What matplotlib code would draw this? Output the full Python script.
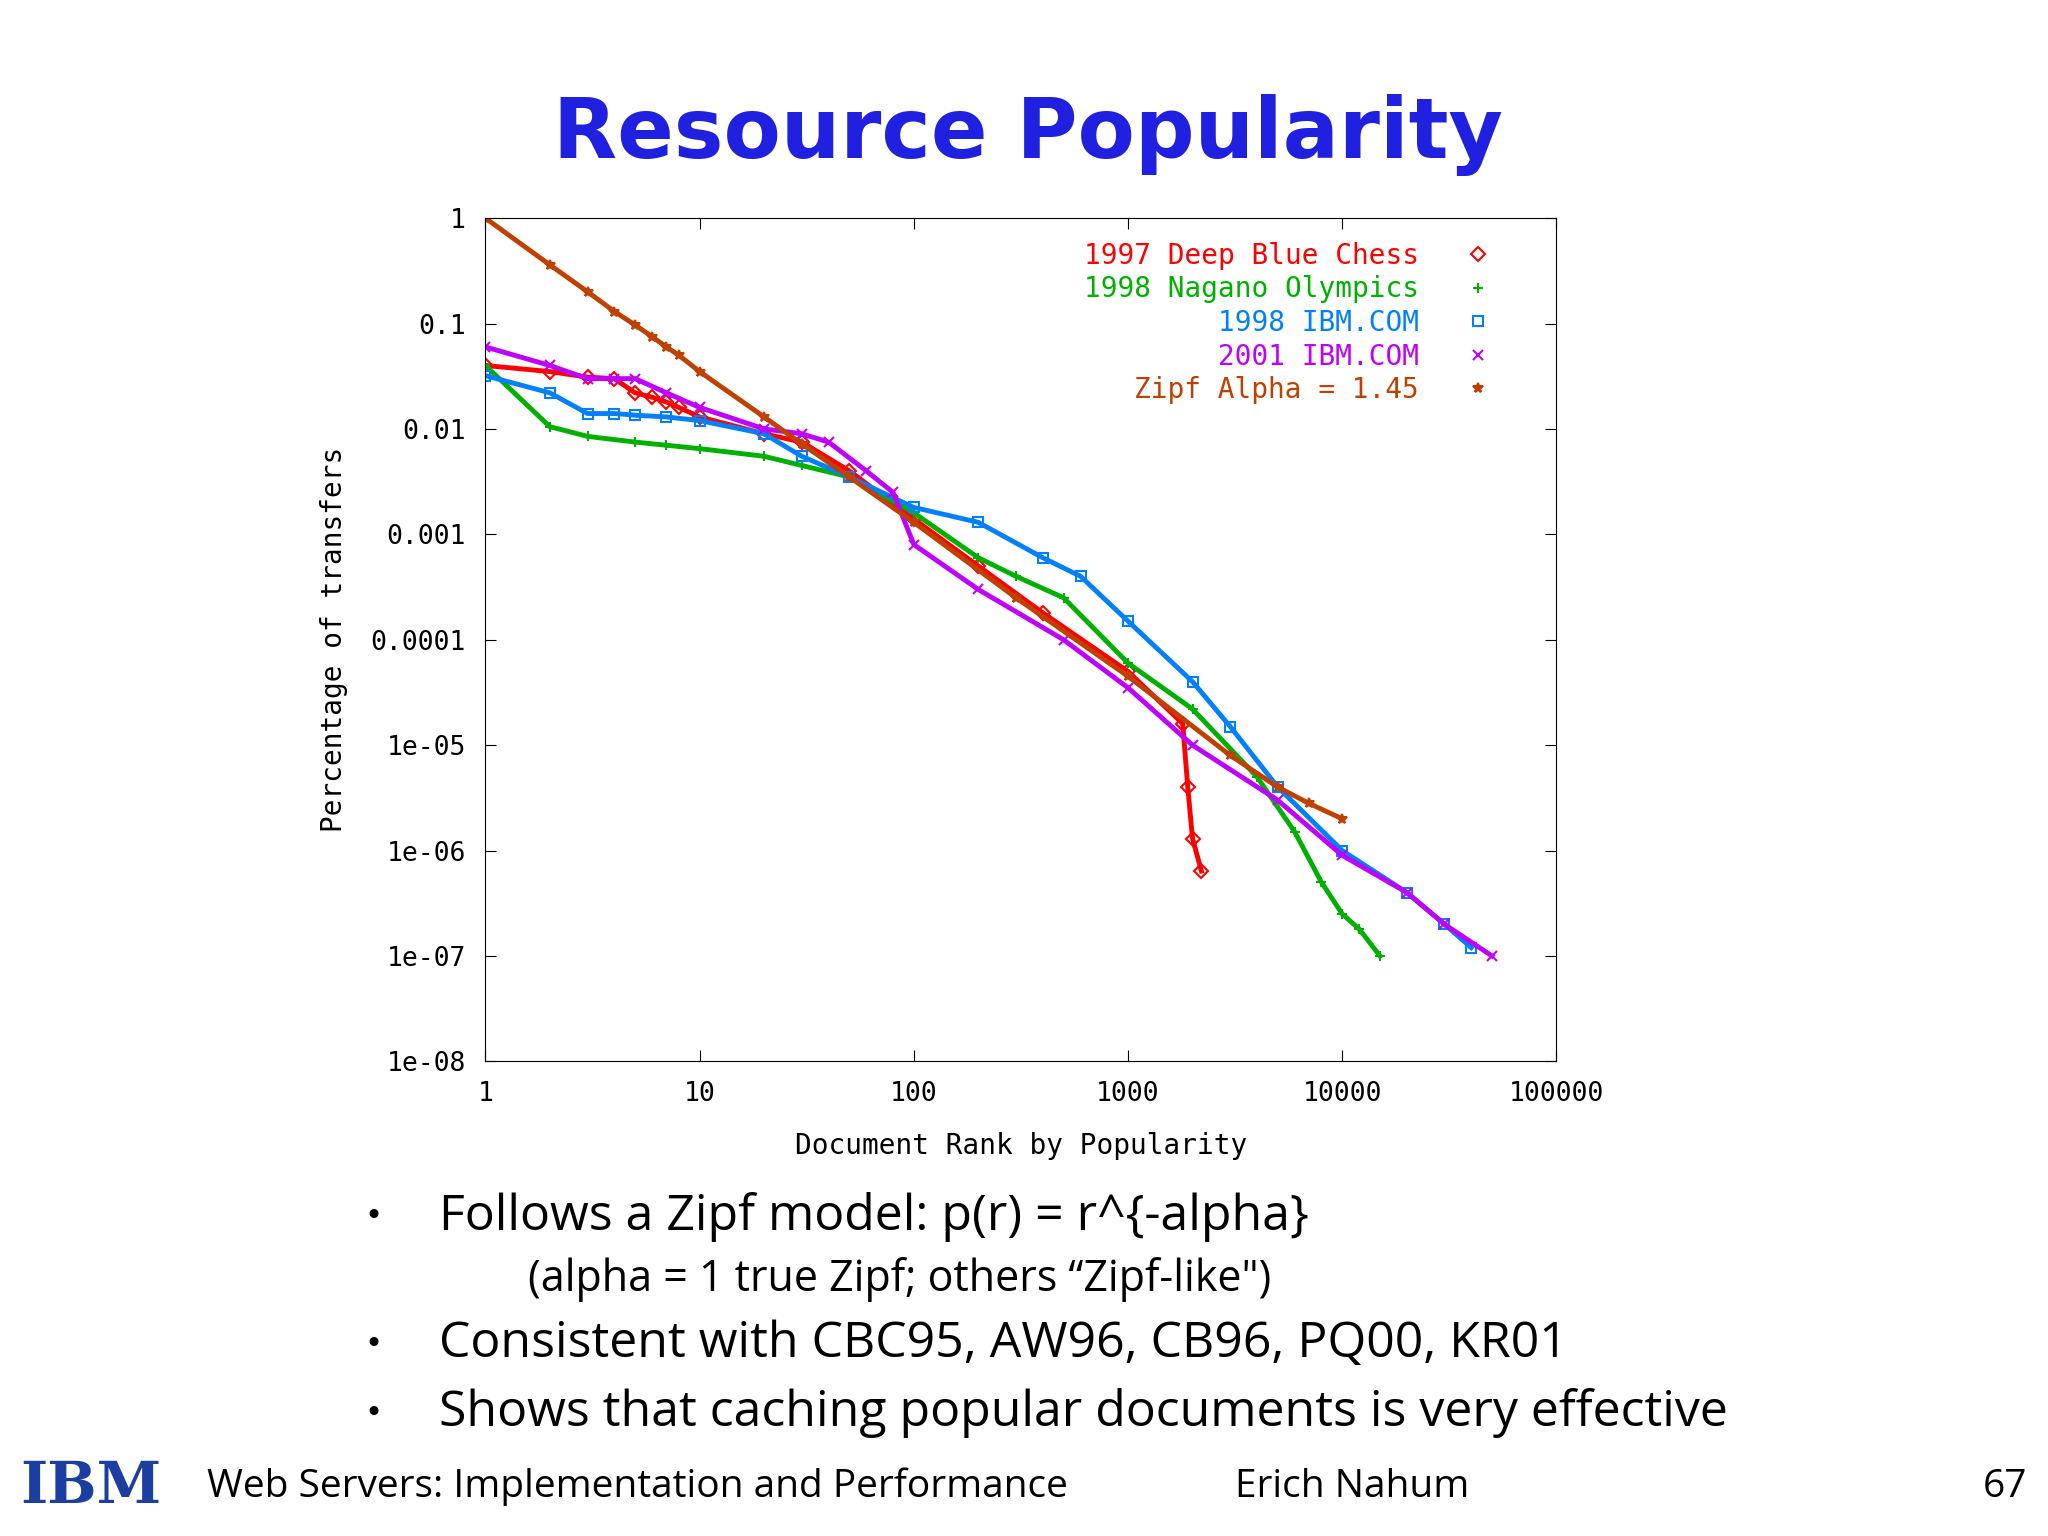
import matplotlib
matplotlib.use("Agg")
import matplotlib.pyplot as plt

series_names = ["1997 Deep Blue Chess", "1998 Nagano Olympics", "1998 IBM.COM", "2001 IBM.COM", "Zipf Alpha = 1.45"]
colors = ["#ff0000", "#00b000", "#0080ff", "#c000ff", "#c04000"]
markers = ["D", "+", "s", "x", "*"]

red_r = [1,2,3,4,5,6,7,8,10,20,30,50,100,200,400,1000,1800,1900,2000,2200]
red_v = [0.04,0.035,0.031,0.03,0.022,0.02,0.018,0.016,0.013,0.009,0.0075,0.004,0.0014,5e-4,1.8e-4,5e-5,1.6e-5,4e-6,1.3e-6,6.4e-7]
grn_r = [1,2,3,5,7,10,20,30,50,100,200,300,500,1000,2000,4000,6000,8000,10000,12000,15000]
grn_v = [0.04,0.0105,0.0085,0.0075,0.007,0.0065,0.0055,0.0045,0.0035,0.0016,6e-4,4e-4,2.5e-4,6e-5,2.2e-5,5e-6,1.5e-6,5e-7,2.5e-7,1.8e-7,1e-7]
blu_r = [1,2,3,4,5,7,10,20,30,50,100,200,400,600,1000,2000,3000,5000,10000,20000,30000,40000]
blu_v = [0.032,0.022,0.014,0.014,0.0135,0.013,0.012,0.009,0.0055,0.0035,0.0018,0.0013,6e-4,4e-4,1.5e-4,4e-5,1.5e-5,4e-6,1e-6,4e-7,2e-7,1.2e-7]
pur_r = [1,2,3,4,5,7,10,20,30,40,60,80,100,200,500,1000,2000,5000,10000,20000,30000,50000]
pur_v = [0.06,0.04,0.03,0.03,0.03,0.022,0.016,0.01,0.009,0.0075,0.004,0.0025,8e-4,3e-4,1e-4,3.5e-5,1e-5,3e-6,9e-7,4e-7,2e-7,1e-7]
zpf_r = [1,2,3,4,5,6,7,8,10,20,30,50,100,300,1000,3000,5000,7000,10000]
zpf_v = [1,0.36,0.2,0.13,0.097,0.075,0.06,0.05,0.035,0.013,0.0072,0.0035,0.0013,2.5e-4,4.5e-5,8e-6,4e-6,2.8e-6,2e-6]
data = [(red_r,red_v),(grn_r,grn_v),(blu_r,blu_v),(pur_r,pur_v),(zpf_r,zpf_v)]

xticks = [1,10,100,1000,10000,100000]
xlabels = ["1","10","100","1000","10000","100000"]
yticks = [1,0.1,0.01,0.001,0.0001,1e-5,1e-6,1e-7,1e-8]
ylabels = ["1","0.1","0.01","0.001","0.0001","1e-05","1e-06","1e-07","1e-08"]

mono = "DejaVu Sans Mono"
fig = plt.figure(figsize=(20.48,15.36), dpi=100)
ax = fig.add_axes([0.237,0.309,0.523,0.549])
for (r,v),c,m,n in zip(data,colors,markers,series_names):
    ax.plot(r, v, color=c, lw=3.5, marker=m, ms=7, mew=1.5, mfc="none" if m in "sD" else c, label=n)
ax.set_xscale("log"); ax.set_yscale("log")
ax.set_xlim(1,100000); ax.set_ylim(1e-8,1)
ax.set_xticks(xticks); ax.set_xticklabels(xlabels, fontfamily=mono, fontsize=19)
ax.set_yticks(yticks); ax.set_yticklabels(ylabels, fontfamily=mono, fontsize=19)
ax.minorticks_off()
ax.tick_params(direction="in", length=8, top=True, right=True, pad=14)
ax.set_xlabel("Document Rank by Popularity", fontfamily=mono, fontsize=20, labelpad=18)
ax.set_ylabel("Percentage of transfers", fontfamily=mono, fontsize=20, labelpad=16)
leg = ax.legend(loc="upper right", frameon=False, markerfirst=False, prop={"family":mono,"size":20},
                handlelength=1.8, handletextpad=1.2, borderaxespad=0.0, labelspacing=0.2,
                bbox_to_anchor=(0.96, 0.985))
for t,c in zip(leg.get_texts(), colors):
    t.set_color(c)
for h in leg.legend_handles:
    h.set_linestyle("none")

fig.text(0.502,0.912,"Resource Popularity",ha="center",va="center",color="#2020e0",fontsize=60,fontweight="bold",fontfamily="DejaVu Sans")
bul = [(0.2145,0.208,"Follows a Zipf model: p(r) = r^{-alpha}"),(0.2145,0.125,"Consistent with CBC95, AW96, CB96, PQ00, KR01"),(0.2145,0.080,"Shows that caching popular documents is very effective")]
for x,y,s in bul:
    fig.text(x,y,s,fontsize=36,va="center",fontfamily="Open Sans")
    fig.text(0.178,y,"•",fontsize=22,va="center")
fig.text(0.258,0.167,"(alpha = 1 true Zipf; others \u201cZipf-like\")",fontsize=31,va="center",fontfamily="Open Sans")
fig.text(0.101,0.032,"Web Servers: Implementation and Performance",fontsize=28,va="center",fontfamily="Open Sans")
fig.text(0.603,0.032,"Erich Nahum",fontsize=28,va="center",fontfamily="Open Sans")
fig.text(0.99,0.032,"67",fontsize=28,va="center",ha="right",fontfamily="Open Sans")
fig.text(0.01,0.032,"IBM",fontsize=42,va="center",color="#1a3fa0",fontweight="bold",fontfamily="DejaVu Serif")
fig.savefig("out.png", dpi=100)
